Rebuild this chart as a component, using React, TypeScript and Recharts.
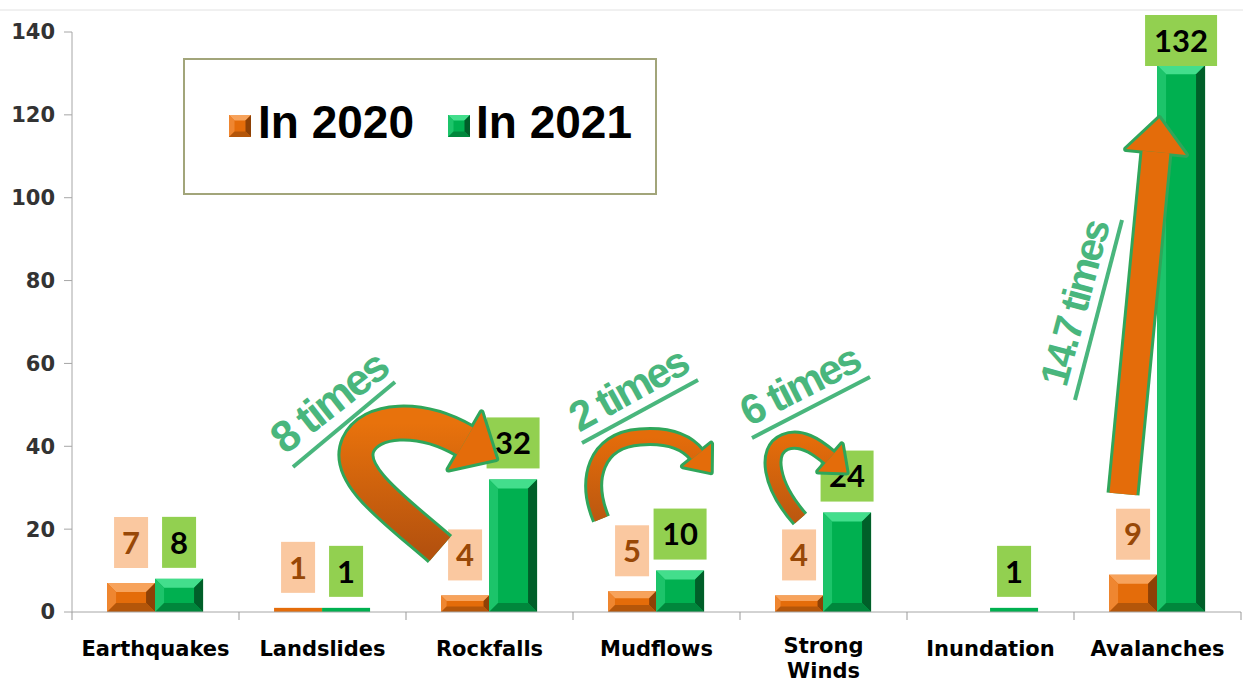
import React from "react";
import { Bar, BarChart, LabelList, XAxis, YAxis } from "recharts";

const categories = ["Earthquakes", "Landslides", "Rockfalls", "Mudflows", "Strong Winds", "Inundation", "Avalanches"];
const in2020 = [7, 1, 4, 5, 4, 0, 9];
const in2021 = [8, 1, 32, 10, 24, 1, 132];
const yTicks = [0, 20, 40, 60, 80, 100, 120, 140];
const tickLines: Record<string, string[]> = { "Strong Winds": ["Strong", "Winds"] };

const data = categories.map((name, i) => ({ name, y2020: in2020[i], y2021: in2021[i] }));

const W = 1243;
const H = 682;
const MARGIN = { top: 32, right: 2, left: 0, bottom: 0 };
const Y_AXIS_W = 72;
const X_AXIS_H = 70;
const BAND = (W - MARGIN.left - MARGIN.right - Y_AXIS_W) / categories.length;
const AXIS_Y = H - MARGIN.bottom - X_AXIS_H;

const orange = { base: "#E46C0A", light: "#F7A35C", side: "#EF8630", dark: "#8E4106", darker: "#B4560A" };
const green = { base: "#00B050", light: "#43DE8C", side: "#1CC46A", dark: "#005F29", darker: "#00873C" };
const annGreen = "#49B67D";
const outline = "#2FA65A";

type Pal = typeof orange;

function bevelShape(pal: Pal) {
  return (props: any) => {
    const x = Number(props.x), y = Number(props.y), w = Number(props.width), h = Number(props.height);
    if (!h || h <= 0) return <g />;
    if (h < 8) return <rect x={x} y={y} width={w} height={h} fill={pal.base} />;
    const b = Math.min(9, h / 3, w / 4);
    return (
      <g>
        <rect x={x} y={y} width={w} height={h} fill={pal.base} />
        <polygon points={`${x},${y} ${x + w},${y} ${x + w - b},${y + b} ${x + b},${y + b}`} fill={pal.light} />
        <polygon points={`${x},${y} ${x + b},${y + b} ${x + b},${y + h - b} ${x},${y + h}`} fill={pal.side} />
        <polygon points={`${x + w},${y} ${x + w},${y + h} ${x + w - b},${y + h - b} ${x + w - b},${y + b}`} fill={pal.dark} />
        <polygon points={`${x},${y + h} ${x + w},${y + h} ${x + w - b},${y + h - b} ${x + b},${y + h - b}`} fill={pal.darker} />
      </g>
    );
  };
}

function makeLabel(boxFill: string, textFill: string, gap: number) {
  return (props: any) => {
    const value = Number(props.value);
    if (!value) return null;
    const x = Number(props.x), y = Number(props.y), width = Number(props.width);
    const bw = 15 + 19 * String(value).length;
    const bh = 51;
    const top = Math.max(y - gap - bh, 15);
    const cx = x + width / 2;
    return (
      <g>
        <rect x={cx - bw / 2} y={top} width={bw} height={bh} fill={boxFill} />
        <text x={cx} y={top + bh / 2} dy="0.36em" textAnchor="middle" fontFamily="Lato" fontWeight="bold" fontSize={31} fill={textFill}>
          {value}
        </text>
      </g>
    );
  };
}

function CategoryTick(props: any) {
  const { x, payload, index } = props;
  const half = BAND / 2;
  const lines = tickLines[payload.value] || [payload.value];
  const baseY = AXIS_Y + (lines.length > 1 ? 41 : 44);
  return (
    <g>
      <line x1={x - half} x2={x - half} y1={AXIS_Y} y2={AXIS_Y + 8} stroke="#999" />
      {index === categories.length - 1 && <line x1={x + half} x2={x + half} y1={AXIS_Y} y2={AXIS_Y + 8} stroke="#999" />}
      <text x={x} y={baseY} textAnchor="middle" fontFamily="DejaVu Sans" fontWeight="bold" fontSize={21} fill="#000">
        {lines.map((l: string, i: number) => (
          <tspan key={i} x={x} dy={i === 0 ? 0 : 25}>
            {l}
          </tspan>
        ))}
      </text>
    </g>
  );
}

function arrowHead(ex: number, ey: number, dx: number, dy: number, len: number, hw: number) {
  const m = Math.hypot(dx, dy);
  const ux = dx / m, uy = dy / m;
  const nx = -uy, ny = ux;
  return `${ex + ux * len},${ey + uy * len} ${ex + nx * hw / 2},${ey + ny * hw / 2} ${ex - nx * hw / 2},${ey - ny * hw / 2}`;
}

const arrows = [
  { d: "M440,549 C395,510 345,475 358,445 C370,418 420,415 465,441", end: [465, 441], dir: [45, 26], w: 31, len: 36, hw: 66, grad: "gBig" },
  { d: "M601,519 C585,480 595,440 640,437 C665,435 685,440 697,455", end: [697, 455], dir: [12, 15], w: 13, len: 22, hw: 36, grad: "gSmall" },
  { d: "M800,519 C770,485 765,450 785,442 C800,436 815,445 830,458", end: [830, 458], dir: [15, 13], w: 13, len: 22, hw: 36, grad: "gSmall" },
  { d: "M1123,494 L1156,152", end: [1156, 152], dir: [33, -342], w: 27, len: 34, hw: 60, grad: "gAval" },
];

const notes = [
  { text: "8 times", x: 338, y: 414, angle: -38, size: 44, ul: [293, 467, 395, 382] },
  { text: "2 times", x: 635, y: 402, angle: -29, size: 42, ul: [582, 443, 698, 380] },
  { text: "6 times", x: 806, y: 398, angle: -27, size: 42, ul: [752, 438, 870, 377] },
  { text: "14.7 times", x: 1088, y: 307, angle: -75, size: 40, ul: [1075, 400, 1122, 220] },
];

function Overlay() {
  return (
    <svg width={W} height={H} style={{ position: "absolute", left: 0, top: 0, pointerEvents: "none" }}>
      <defs>
        <linearGradient id="gBig" x1="0" y1="0" x2="0" y2="1">
          <stop offset="0" stopColor="#E8720C" />
          <stop offset="1" stopColor="#B5520E" />
        </linearGradient>
        <linearGradient id="gSmall" x1="0" y1="0" x2="0" y2="1">
          <stop offset="0" stopColor="#E46C0A" />
          <stop offset="1" stopColor="#BC5810" />
        </linearGradient>
        <linearGradient id="gAval" x1="0" y1="0" x2="0" y2="1">
          <stop offset="0" stopColor="#E46C0A" />
          <stop offset="1" stopColor="#E46C0A" />
        </linearGradient>
      </defs>
      <line x1={0} x2={W} y1={10} y2={10} stroke="#E2E2E2" />
      <rect x={184} y={59} width={472} height={135} fill="#fff" stroke="#A2A57A" strokeWidth={2} />
      {bevelShape(orange)({ x: 229, y: 115, width: 22, height: 22 })}
      <text x={258} y={138} fontFamily="Liberation Sans" fontWeight="bold" fontSize={46} fill="#000">
        In 2020
      </text>
      {bevelShape(green)({ x: 448, y: 115, width: 22, height: 22 })}
      <text x={476} y={138} fontFamily="Liberation Sans" fontWeight="bold" fontSize={46} fill="#000">
        In 2021
      </text>
      {arrows.map((a, i) => {
        const head = arrowHead(a.end[0], a.end[1], a.dir[0], a.dir[1], a.len, a.hw);
        return (
          <g key={i}>
            <path d={a.d} fill="none" stroke={outline} strokeWidth={a.w + 6} />
            <polygon points={head} fill={outline} stroke={outline} strokeWidth={6} strokeLinejoin="round" />
            <path d={a.d} fill="none" stroke={`url(#${a.grad})`} strokeWidth={a.w} />
            <polygon points={head} fill="#E46C0A" />
          </g>
        );
      })}
      {notes.map((n, i) => (
        <g key={i}>
          <text
            x={n.x}
            y={n.y}
            transform={`rotate(${n.angle} ${n.x} ${n.y})`}
            textAnchor="middle"
            fontFamily="Liberation Sans"
            fontWeight="bold"
            fontSize={n.size}
            letterSpacing={-2.5}
            fill={annGreen}
          >
            {n.text}
          </text>
          <line x1={n.ul[0]} y1={n.ul[1]} x2={n.ul[2]} y2={n.ul[3]} stroke={annGreen} strokeWidth={4} />
        </g>
      ))}
    </svg>
  );
}

export default function App() {
  return (
    <div style={{ position: "absolute", left: 0, top: 0, width: W, height: H, background: "#fff" }}>
      <BarChart width={W} height={H} data={data} margin={MARGIN} barCategoryGap="21%" barGap={0}>
        <XAxis
          dataKey="name"
          height={X_AXIS_H}
          interval={0}
          tickLine={false}
          tickSize={0}
          tickMargin={0}
          axisLine={{ stroke: "#A6A6A6" }}
          tick={<CategoryTick />}
        />
        <YAxis
          domain={[0, 140]}
          ticks={yTicks}
          width={Y_AXIS_W}
          tickSize={8}
          tickMargin={9}
          axisLine={{ stroke: "#A6A6A6" }}
          tickLine={{ stroke: "#A6A6A6" }}
          tick={{ fontFamily: "DejaVu Sans", fontWeight: "bold", fontSize: 21, fill: "#333" }}
        />
        <Bar dataKey="y2020" name="In 2020" fill={orange.base} shape={bevelShape(orange)} isAnimationActive={false}>
          <LabelList dataKey="y2020" content={makeLabel("#FAC8A0", "#984807", 15)} />
        </Bar>
        <Bar dataKey="y2021" name="In 2021" fill={green.base} shape={bevelShape(green)} isAnimationActive={false}>
          <LabelList dataKey="y2021" content={makeLabel("#92D050", "#000", 11)} />
        </Bar>
      </BarChart>
      <Overlay />
    </div>
  );
}
